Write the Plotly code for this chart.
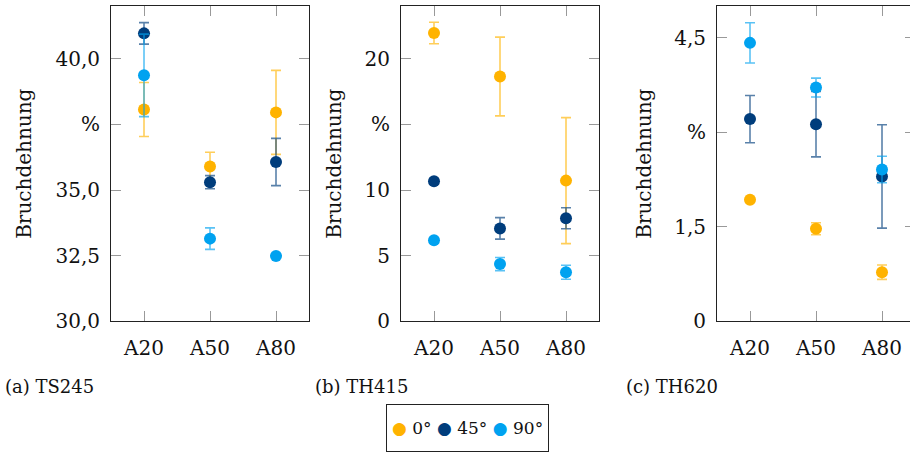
import plotly.graph_objects as go

categories = ["A20", "A50", "A80"]
series_names = ["0°", "45°", "90°"]
colors = ["#FFB300", "#003D7C", "#00A2F0"]
err_colors = ["rgba(255,179,0,0.65)", "rgba(0,61,124,0.65)", "rgba(0,162,240,0.65)"]

# TS245
ts245_vals = [[38.07, 35.90, 37.96], [40.97, 35.30, 36.07], [39.37, 33.15, 32.49]]
ts245_err = [[1.03, 0.54, 1.60], [0.41, 0.25, 0.90], [1.57, 0.41, 0.05]]
# TH415
th415_vals = [[21.97, 18.65, 10.72], [10.67, 7.08, 7.85], [6.17, 4.36, 3.74]]
th415_err = [[0.82, 3.00, 4.80], [0.20, 0.82, 0.80], [0.20, 0.50, 0.53]]
# TH620
th620_vals = [[1.93, 1.47, 0.78], [3.21, 3.13, 2.30], [4.42, 3.71, 2.41]]
th620_err = [[0.03, 0.095, 0.115], [0.375, 0.52, 0.82], [0.32, 0.15, 0.21]]

ts245_ticks = [30, 32.5, 35, 37.5, 40]
ts245_ticktext = ["30,0", "32,5", "35,0", "%", "40,0"]
th415_ticks = [0, 5, 10, 15, 20]
th415_ticktext = ["0", "5", "10", "%", "20"]
th620_ticks = [0, 1.5, 3, 4.5]
th620_ticktext = ["0", "1,5", "%", "4,5"]

captions = ["(a) TS245", "(b) TH415", "(c) TH620"]
ytitle = "Bruchdehnung"

W, H = 918, 456          # the page is 910 wide; the last panel runs past the edge
FONT = "DejaVu Serif"

panels = [
    dict(vals=ts245_vals, err=ts245_err, ticks=ts245_ticks, tt=ts245_ticktext,
         yr=[30, 42], xd=[111 / W, 309 / W], tx=24, cx=3),
    dict(vals=th415_vals, err=th415_err, ticks=th415_ticks, tt=th415_ticktext,
         yr=[0, 24], xd=[401 / W, 599 / W], tx=334, cx=313),
    dict(vals=th620_vals, err=th620_err, ticks=th620_ticks, tt=th620_ticktext,
         yr=[0, 5], xd=[717 / W, 915 / W], tx=644, cx=624),
]

ydom = [1 - 330 / H, 1 - 6.5 / H]

fig = go.Figure()
annotations = []
for p_i, p in enumerate(panels):
    sfx = "" if p_i == 0 else str(p_i + 1)
    for s_i, name in enumerate(series_names):
        fig.add_trace(go.Scatter(
            x=categories, y=p["vals"][s_i],
            mode="markers",
            name=name,
            showlegend=False,
            marker=dict(color=colors[s_i], size=12),
            error_y=dict(type="data", array=p["err"][s_i], color=err_colors[s_i],
                         thickness=1.6, width=5),
            xaxis="x" + sfx, yaxis="y" + sfx,
        ))
    axis_common = dict(showline=True, linecolor="#222", linewidth=1,
                       ticks="inside", ticklen=10, tickcolor="#999", tickwidth=1,
                       showgrid=False, zeroline=False, mirror="ticks",
                       tickfont=dict(family=FONT, size=20, color="#111"))
    fig.layout["xaxis" + sfx] = dict(axis_common, domain=p["xd"], range=[-0.5, 2.5],
                                     anchor="y" + sfx, type="category",
                                     ticklabelstandoff=9)
    fig.layout["yaxis" + sfx] = dict(axis_common, domain=ydom, range=p["yr"],
                                     anchor="x" + sfx,
                                     tickvals=p["ticks"], ticktext=p["tt"],
                                     ticklabelstandoff=6)
    annotations.append(dict(text=ytitle, textangle=-90, xref="paper", yref="paper",
                            x=p["tx"] / W, y=(ydom[0] + ydom[1]) / 2,
                            xanchor="center", yanchor="middle", showarrow=False,
                            font=dict(family=FONT, size=20, color="#111")))
    annotations.append(dict(text=captions[p_i], xref="paper", yref="paper",
                            x=p["cx"] / W, y=1 - 397 / H, xanchor="left", yanchor="middle",
                            showarrow=False, font=dict(family=FONT, size=18, color="#111")))

# shared legend box (its lower edge runs past the bottom of the page)
legend_text = " ".join(
    f'<span style="color:{c}">●</span> {n}' for c, n in zip(colors, series_names)
)
annotations.append(dict(text=legend_text, xref="paper", yref="paper",
                        x=386 / W, y=1 - 415 / H, xanchor="left", yanchor="top",
                        height=36, valign="middle",
                        showarrow=False, bordercolor="#222", borderwidth=1, borderpad=5,
                        bgcolor="white", font=dict(family=FONT, size=17, color="#111")))

fig.update_layout(
    width=W, height=H,
    margin=dict(l=0, r=0, t=0, b=0),
    paper_bgcolor="white", plot_bgcolor="white",
    annotations=annotations,
    showlegend=False,
)

fig.write_html("out.html", config={"displayModeBar": False},
               post_script="document.body.style.margin='0';document.body.style.overflow='hidden';")
